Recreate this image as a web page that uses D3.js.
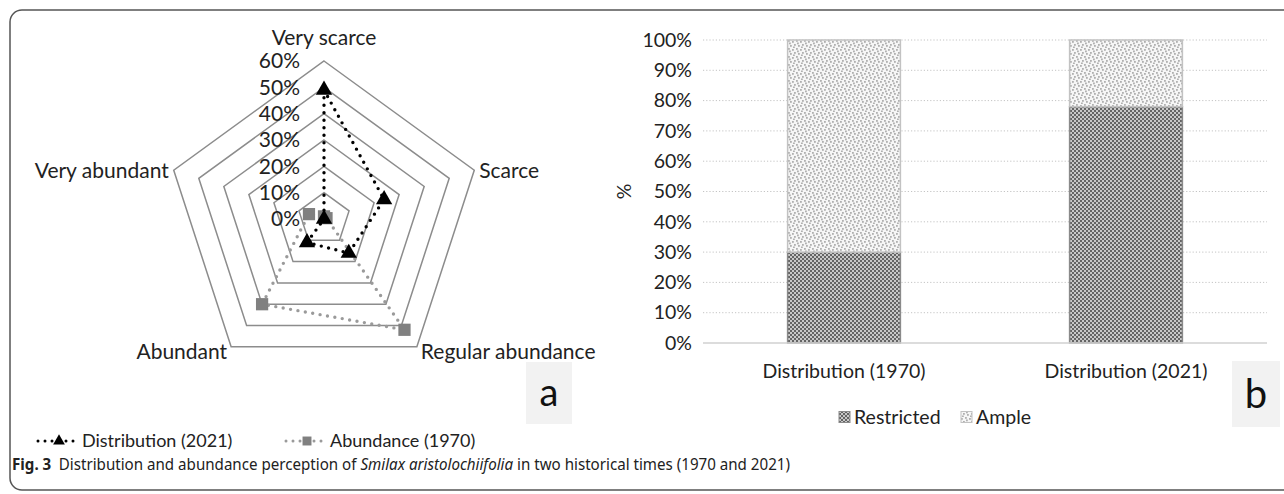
<!DOCTYPE html>
<html>
<head>
<meta charset="utf-8">
<script src="https://cdn.jsdelivr.net/npm/d3@7"></script>
<style>
  body { margin: 0; background: #fff; }
  svg { display: block; font-family: Lato, "Open Sans", sans-serif; }
</style>
</head>
<body>
<div id="chart"></div>
<script>
// - - Data: panel a (radar) - -
const categories = ["Very scarce", "Scarce", "Regular abundance", "Abundant", "Very abundant"];
const distribution2021 = [0.49, 0.24, 0.16, 0.11, 0.0];
const abundance1970 = [0.01, 0.01, 0.52, 0.40, 0.06];
const radarTicks = [0, 0.1, 0.2, 0.3, 0.4, 0.5, 0.6];

// - - Data: panel b (stacked bars) - -
const periods = ["Distribution (1970)", "Distribution (2021)"];
const restricted = [0.30, 0.78];
const ample = [0.70, 0.22];
const barTicks = [0, 0.1, 0.2, 0.3, 0.4, 0.5, 0.6, 0.7, 0.8, 0.9, 1.0];
const barSeries = ["Restricted", "Ample"];

const W = 1284, H = 494;

const svg = d3.select("#chart").append("svg")
    .attr("width", W)
    .attr("height", H);

// Patterns for the bar fills
const defs = svg.append("defs");

const checker = defs.append("pattern")
    .attr("id", "checker")
    .attr("patternUnits", "userSpaceOnUse")
    .attr("width", 4).attr("height", 4);
checker.append("rect").attr("width", 4).attr("height", 4).attr("fill", "#c8c8c8");
checker.append("rect").attr("width", 2).attr("height", 2).attr("fill", "#646464");
checker.append("rect").attr("x", 2).attr("y", 2).attr("width", 2).attr("height", 2).attr("fill", "#646464");

const specks = defs.append("pattern")
    .attr("id", "specks")
    .attr("patternUnits", "userSpaceOnUse")
    .attr("width", 8).attr("height", 8);
specks.append("rect").attr("width", 8).attr("height", 8).attr("fill", "#f6f6f6");
[[0, 1], [4, 0], [2, 4], [6, 5], [5, 2.5], [1, 6.5]].forEach(p => {
    specks.append("rect")
        .attr("x", p[0]).attr("y", p[1])
        .attr("width", 1.8).attr("height", 1.8)
        .attr("fill", "#b0b0b0");
});

// Figure frame
svg.append("rect")
    .attr("x", 10).attr("y", 10)
    .attr("width", 1290).attr("height", 480)
    .attr("rx", 12)
    .attr("fill", "none")
    .attr("stroke", "#555")
    .attr("stroke-width", 1.5);

// - - Panel a: radar - -
function drawRadar(g) {
    const cx = 324, cy = 219;
    const r = d3.scaleLinear().domain([0, 0.6]).range([0, 158]);
    const angle = d3.scalePoint()
        .domain(d3.range(categories.length + 1))
        .range([0, 2 * Math.PI]);

    const radial = d3.lineRadial()
        .angle((d, i) => angle(i))
        .radius(d => r(d))
        .curve(d3.curveLinearClosed);

    const plot = g.append("g").attr("transform", `translate(${cx},${cy})`);

    // Rings
    plot.selectAll("path.ring")
        .data(radarTicks.filter(t => t > 0))
        .enter()
        .append("path")
        .attr("class", "ring")
        .attr("d", t => radial(categories.map(() => t)))
        .attr("fill", "none")
        .attr("stroke", "#8c8c8c")
        .attr("stroke-width", 1.5);

    // Tick labels
    plot.selectAll("text.tick")
        .data(radarTicks)
        .enter()
        .append("text")
        .attr("x", -24)
        .attr("y", t => -r(t))
        .attr("dy", "0.35em")
        .attr("text-anchor", "end")
        .attr("font-size", 21)
        .attr("fill", "#222")
        .text(d3.format(".0%"));

    // Category labels
    const pt = (i, v) => {
        const a = angle(i);
        return [r(v) * Math.sin(a), -r(v) * Math.cos(a)];
    };
    const labelPos = [
        { dx: 0, dy: -23, anchor: "middle" },
        { dx: 5, dy: 0, anchor: "start" },
        { dx: 4, dy: 5, anchor: "start" },
        { dx: -4, dy: 5, anchor: "end" },
        { dx: -5, dy: 0, anchor: "end" }
    ];
    categories.forEach((c, i) => {
        const p = pt(i, 0.6);
        plot.append("text")
            .attr("x", p[0] + labelPos[i].dx)
            .attr("y", p[1] + labelPos[i].dy)
            .attr("dy", "0.35em")
            .attr("text-anchor", labelPos[i].anchor)
            .attr("font-size", 21)
            .attr("fill", "#222")
            .text(c);
    });

    // Series
    const series = [
        { values: abundance1970, color: "#808080", dots: "#9a9a9a", symbol: d3.symbolSquare, size: 150 },
        { values: distribution2021, color: "#000", dots: "#000", symbol: d3.symbolTriangle, size: 115 }
    ];
    series.forEach(s => {
        plot.append("path")
            .attr("d", radial(s.values))
            .attr("fill", "none")
            .attr("stroke", s.dots)
            .attr("stroke-width", 3.4)
            .attr("stroke-linecap", "round")
            .attr("stroke-dasharray", "0 7.5");

        plot.selectAll(null)
            .data(s.values)
            .enter()
            .append("path")
            .attr("d", d3.symbol(s.symbol, s.size))
            .attr("transform", (d, i) => `translate(${pt(i, d)})`)
            .attr("fill", s.color);
    });

    // Legend: three dots, marker, two dots
    const legend = g.append("g").attr("transform", "translate(0,441)");
    const items = [
        { x: 38, label: "Distribution (2021)", color: "#000", dots: "#000", symbol: d3.symbolTriangle, size: 60 },
        { x: 286, label: "Abundance (1970)", color: "#808080", dots: "#9a9a9a", symbol: d3.symbolSquare, size: 80 }
    ];
    items.forEach(it => {
        const li = legend.append("g").attr("transform", `translate(${it.x},0)`);
        li.append("line")
            .attr("x1", 0).attr("x2", 37)
            .attr("stroke", it.dots)
            .attr("stroke-width", 3)
            .attr("stroke-linecap", "round")
            .attr("stroke-dasharray", "0 7");
        li.append("path")
            .attr("d", d3.symbol(it.symbol, it.size))
            .attr("transform", "translate(21,0)")
            .attr("fill", it.color);
        li.append("text")
            .attr("x", 44)
            .attr("dy", "0.35em")
            .attr("font-size", 18)
            .attr("fill", "#222")
            .text(it.label);
    });

    // Panel letter
    g.append("rect")
        .attr("x", 526).attr("y", 362)
        .attr("width", 46).attr("height", 62)
        .attr("fill", "#f2f2f2");
    g.append("text")
        .attr("x", 549).attr("y", 393)
        .attr("dy", "0.35em")
        .attr("text-anchor", "middle")
        .attr("font-size", 38)
        .attr("fill", "#111")
        .text("a");
}

// - - Panel b: stacked bars - -
function drawBars(g) {
    const left = 703, right = 1267, top = 40, bottom = 343;

    const x = d3.scaleBand()
        .domain(periods)
        .range([left, right])
        .paddingInner(0.6)
        .paddingOuter(0.3);

    const y = d3.scaleLinear()
        .domain([0, 1])
        .range([bottom, top]);

    // Gridlines
    g.append("g")
        .selectAll("line")
        .data(barTicks.filter(t => t > 0))
        .enter()
        .append("line")
        .attr("x1", left).attr("x2", right)
        .attr("y1", d => y(d)).attr("y2", d => y(d))
        .attr("stroke", "#c4c4c4")
        .attr("stroke-width", 1)
        .attr("stroke-dasharray", "1.2 2");

    // Y axis labels
    const yAxis = g.append("g")
        .attr("transform", `translate(${left},0)`)
        .call(d3.axisLeft(y).tickValues(barTicks).tickFormat(d3.format(".0%")).tickSize(0).tickPadding(11));
    yAxis.select(".domain").remove();
    yAxis.selectAll("text")
        .attr("font-family", "Lato, sans-serif")
        .attr("font-size", 19.5)
        .attr("fill", "#222");

    g.append("text")
        .attr("transform", `translate(624,${(top + bottom) / 2}) rotate(-90)`)
        .attr("dy", "0.35em")
        .attr("text-anchor", "middle")
        .attr("font-size", 19.5)
        .attr("fill", "#222")
        .text("%");

    // Stacked bars
    const table = periods.map((p, i) => ({ period: p, Restricted: restricted[i], Ample: ample[i] }));
    const stack = d3.stack().keys(barSeries)(table);
    const fills = { Restricted: "url(#checker)", Ample: "url(#specks)" };
    const strokes = { Restricted: "#8a8a8a", Ample: "#c2c2c2" };

    stack.forEach(layer => {
        g.append("g")
            .selectAll("rect")
            .data(layer)
            .enter()
            .append("rect")
            .attr("x", d => x(d.data.period))
            .attr("y", d => y(d[1]))
            .attr("width", x.bandwidth())
            .attr("height", d => y(d[0]) - y(d[1]))
            .attr("fill", fills[layer.key])
            .attr("stroke", strokes[layer.key])
            .attr("stroke-width", 1.5);
    });

    // Baseline
    g.append("line")
        .attr("x1", left).attr("x2", right)
        .attr("y1", bottom).attr("y2", bottom)
        .attr("stroke", "#d0d0d0")
        .attr("stroke-width", 1.5);

    // X axis labels
    const xAxis = g.append("g")
        .attr("transform", `translate(0,${bottom})`)
        .call(d3.axisBottom(x).tickSize(0).tickPadding(21));
    xAxis.select(".domain").remove();
    xAxis.selectAll("text")
        .attr("font-family", "Lato, sans-serif")
        .attr("font-size", 19.5)
        .attr("fill", "#222");

    // Legend
    const legend = g.append("g").attr("transform", "translate(839,417)");
    const offsets = [0, 122];
    barSeries.forEach((k, i) => {
        const li = legend.append("g").attr("transform", `translate(${offsets[i]},0)`);
        li.append("rect")
            .attr("x", 0).attr("y", -5.5)
            .attr("width", 11).attr("height", 11)
            .attr("fill", fills[k])
            .attr("stroke", strokes[k]);
        li.append("text")
            .attr("x", 15)
            .attr("dy", "0.35em")
            .attr("font-size", 19.5)
            .attr("fill", "#222")
            .text(k);
    });

    // Panel letter
    g.append("rect")
        .attr("x", 1232).attr("y", 361)
        .attr("width", 48).attr("height", 66)
        .attr("fill", "#f2f2f2");
    g.append("text")
        .attr("x", 1256).attr("y", 394)
        .attr("dy", "0.35em")
        .attr("text-anchor", "middle")
        .attr("font-size", 40)
        .attr("fill", "#111")
        .text("b");
}

drawRadar(svg.append("g"));
drawBars(svg.append("g"));

// Caption
const cap = svg.append("text")
    .attr("x", 12).attr("y", 470)
    .attr("font-family", "'Liberation Sans Narrow', 'Noto Sans', sans-serif")
    .attr("font-size", 15.5)
    .attr("fill", "#222")
    .attr("textLength", 778)
    .attr("lengthAdjust", "spacingAndGlyphs");
cap.append("tspan").attr("font-weight", "bold").text("Fig. 3");
cap.append("tspan").text("\u2002Distribution and abundance perception of ");
cap.append("tspan").attr("font-style", "italic").text("Smilax aristolochiifolia");
cap.append("tspan").text(" in two historical times (1970 and 2021)");
</script>
</body>
</html>
